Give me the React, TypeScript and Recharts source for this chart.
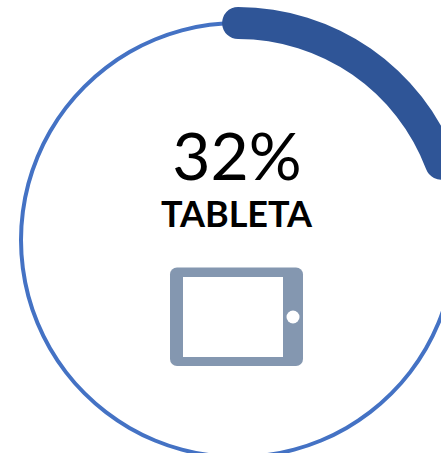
import { Cell, Pie, PieChart } from 'recharts';

const ringData = [{ name: 'anillo', value: 100 }];
// the gauge track is longer than 100 here: 32 fills only the top-right part of the ring
const gaugeData = [
  { name: 'TABLETA', value: 32 },
  { name: 'resto', value: 116 },
];
const gaugeColors = ['#2F5597', 'transparent'];
const percentLabel = '32%';
const deviceLabel = 'TABLETA';

const CX = 238;
const CY = 240;

export default function App() {
  return (
    <div style={{ position: 'fixed', left: 0, top: 0, width: 441, height: 453, overflow: 'hidden', background: '#fff' }}>
      <PieChart width={441} height={453} margin={{ top: 0, right: 0, bottom: 0, left: 0 }}>
        <Pie
          data={ringData}
          dataKey="value"
          cx={CX}
          cy={CY}
          innerRadius={215}
          outerRadius={219}
          startAngle={90}
          endAngle={-270}
          fill="#4472C4"
          stroke="none"
          isAnimationActive={false}
        />
        <Pie
          data={gaugeData}
          dataKey="value"
          cx={CX}
          cy={CY}
          innerRadius={201}
          outerRadius={233}
          startAngle={94.2}
          endAngle={-265.8}
          cornerRadius={16}
          stroke="none"
          isAnimationActive={false}
        >
          {gaugeColors.map((c, i) => (
            <Cell key={i} fill={c} />
          ))}
        </Pie>
        <text x={237} y={180} textAnchor="middle" fontFamily="Lato" fontWeight={400} fontSize={66} fill="#000">
          {percentLabel}
        </text>
        <text x={236.5} y={227} textAnchor="middle" fontFamily="Lato" fontWeight={700} fontSize={36} fill="#000">
          {deviceLabel}
        </text>
        {/* tablet icon */}
        <rect x={170} y={267.5} width={133} height={98.5} rx={7} fill="#8497B0" />
        <rect x={183} y={277} width={100} height={80} fill="#fff" />
        <circle cx={293} cy={317} r={6.5} fill="#fff" />
      </PieChart>
    </div>
  );
}
